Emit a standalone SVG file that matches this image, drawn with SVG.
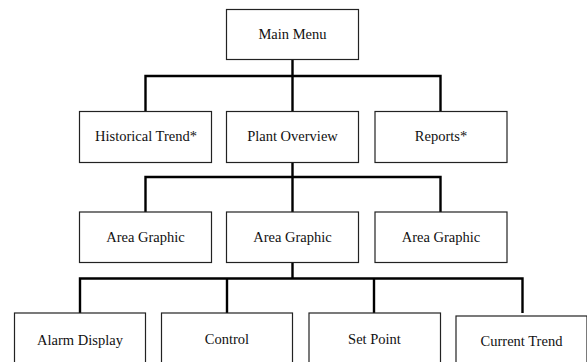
<svg xmlns="http://www.w3.org/2000/svg" width="587" height="362" viewBox="0 0 587 362">
<style>
rect{fill:#fff;stroke:#222;stroke-width:1.2}
text{font-family:"Liberation Serif","Times New Roman",serif;font-size:14.5px;fill:#111;text-anchor:middle}
.c{fill:none;stroke:#000;stroke-width:2.4}
</style>
<rect x="0" y="0" width="587" height="362" style="stroke:none"/>
<g id="connectors">
<path class="c" d="M292.5 59.5V111.5M145.5 112V76H440.5V112"/>
<path class="c" d="M292.5 162.5V212M145.5 212V177H440.5V212"/>
<path class="c" d="M292.5 262.5V278.5M80 313V278.5H522.5V313M227 278.5V313M374 278.5V313"/>
</g>
<g id="main-menu"><rect x="226.5" y="9.5" width="132" height="50"/><text x="292.5" y="39">Main Menu</text></g>
<g id="historical-trend"><rect x="79.5" y="111.5" width="132" height="51"/><text x="146" y="141">Historical Trend*</text></g>
<g id="plant-overview"><rect x="226.5" y="111.5" width="132" height="51"/><text x="292.5" y="141">Plant Overview</text></g>
<g id="reports"><rect x="375" y="111.5" width="132" height="51"/><text x="441" y="141">Reports*</text></g>
<g id="area-graphic-1"><rect x="79.5" y="212" width="132" height="50.5"/><text x="145.5" y="241.5">Area Graphic</text></g>
<g id="area-graphic-2"><rect x="226.5" y="212" width="132" height="50.5"/><text x="292.5" y="241.5">Area Graphic</text></g>
<g id="area-graphic-3"><rect x="375" y="212" width="132" height="50.5"/><text x="441" y="241.5">Area Graphic</text></g>
<g id="alarm-display"><rect x="14.5" y="313" width="131" height="60"/><text x="80" y="345">Alarm Display</text></g>
<g id="control"><rect x="161.5" y="313" width="131" height="60"/><text x="227" y="344">Control</text></g>
<g id="set-point"><rect x="309" y="313" width="131.5" height="60"/><text x="374.5" y="344">Set Point</text></g>
<g id="current-trend"><rect x="456" y="316" width="131" height="60"/><text x="521.5" y="346">Current Trend</text></g>
</svg>
